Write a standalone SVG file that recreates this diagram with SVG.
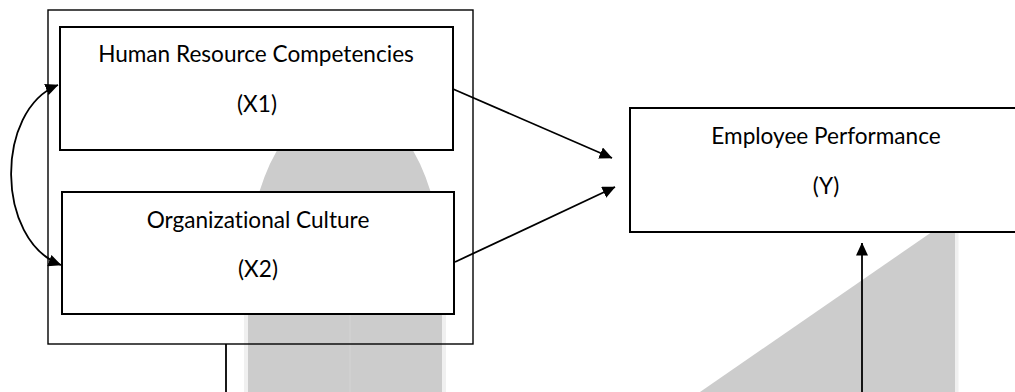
<svg xmlns="http://www.w3.org/2000/svg" width="1015" height="392" viewBox="0 0 1015 392">
  <style>
    .wm { fill: #cccccc; }
    .wm-edge { fill: #f0f0f0; }
    .frame { fill: none; stroke: #000; stroke-width: 1.4; }
    .box { fill: #fff; stroke: #000; stroke-width: 2; }
    .label { font-family: Lato, "Liberation Sans", sans-serif; font-size: 22.6px; fill: #000; text-anchor: middle; font-variant-ligatures: none; }
    .link { fill: none; stroke: #000; stroke-width: 1.8; }
    .arrow { marker-end: url(#head); }
  </style>
  <defs>
    <marker id="head" markerUnits="userSpaceOnUse" markerWidth="13" markerHeight="12" viewBox="0 0 13 12" refX="12.5" refY="6" orient="auto-start-reverse">
      <path d="M0,0 L13,6 L0,12 Z" fill="#000"/>
    </marker>
  </defs>

  <!-- background watermark -->
  <g id="watermark">
    <rect class="wm-edge" x="244" y="300" width="202" height="92"/>
    <path class="wm" d="M248,392 V271 A97,169 0 0 1 442,271 V392 Z"/>
    <rect x="349" y="200" width="2" height="192" fill="#d0d0d0"/>
    <rect class="wm-edge" x="955" y="216" width="3.5" height="176"/>
    <path class="wm" d="M700,392 L955,216 V392 Z"/>
  </g>

  <!-- grouping frame around the independent variables -->
  <rect id="frame" class="frame" x="48" y="10" width="425" height="334"/>

  <g id="node-x1">
    <rect class="box" x="60" y="27" width="393" height="123"/>
    <text class="label" x="256" y="62">Human Resource Competencies</text>
    <text class="label" x="257" y="112">(X1)</text>
  </g>

  <g id="node-x2">
    <rect class="box" x="62" y="192" width="392" height="122"/>
    <text class="label" x="258" y="228">Organizational Culture</text>
    <text class="label" x="258" y="277">(X2)</text>
  </g>

  <g id="node-y">
    <rect class="box" x="630" y="108" width="400" height="124"/>
    <text class="label" x="826" y="144">Employee Performance</text>
    <text class="label" x="826" y="194">(Y)</text>
  </g>

  <g id="connectors">
    <path class="link arrow" d="M453,89 L612,158"/>
    <path class="link arrow" d="M455,262 L615,187"/>
    <path class="link arrow" d="M61,265 C-5,240 -5,110 58,85" marker-start="url(#head)"/>
    <path class="link" d="M226,344 V392"/>
    <path class="link arrow" d="M862,392 V243"/>
  </g>
</svg>
